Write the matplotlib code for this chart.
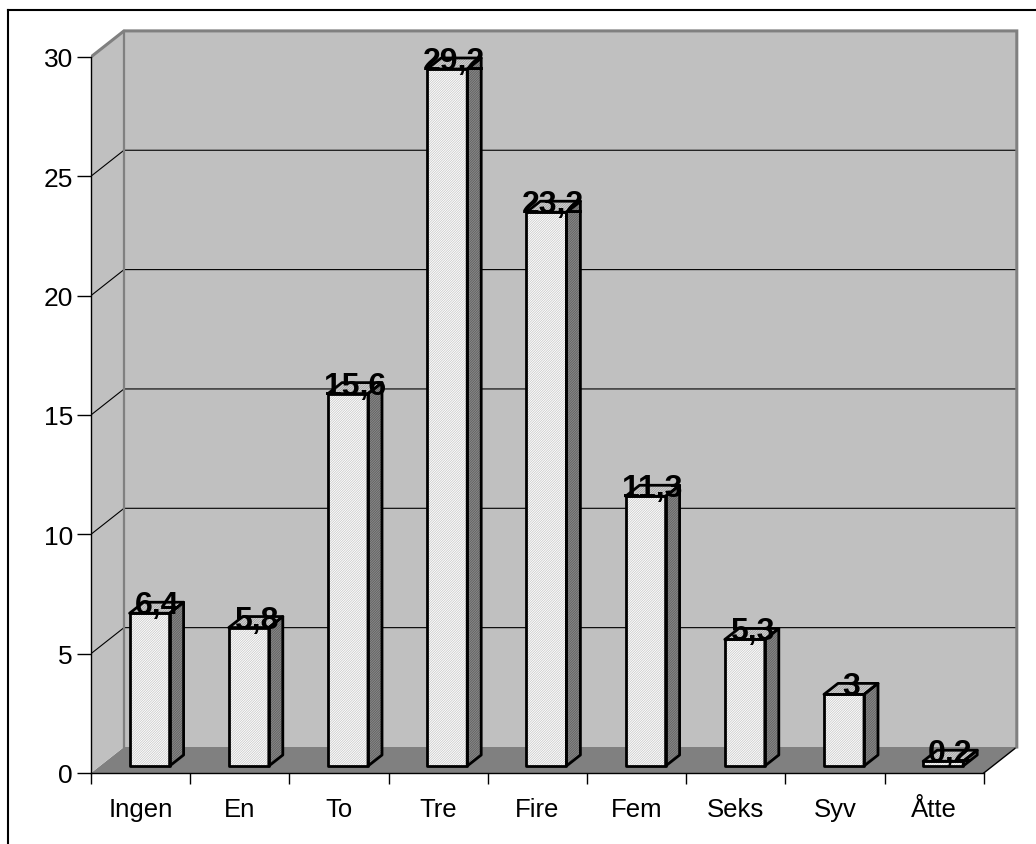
import matplotlib
matplotlib.use('Agg')
import matplotlib.pyplot as plt
from matplotlib.patches import Polygon
from matplotlib.lines import Line2D

plt.rcParams['font.family'] = ['Liberation Sans', 'DejaVu Sans']
plt.rcParams['hatch.linewidth'] = 0.5

categories = ['Ingen', 'En', 'To', 'Tre', 'Fire', 'Fem', 'Seks', 'Syv', 'Åtte']
values = [6.4, 5.8, 15.6, 29.2, 23.2, 11.3, 5.3, 3, 0.2]
labels = ['6,4', '5,8', '15,6', '29,2', '23,2', '11,3', '5,3', '3', '0,2']
yticks = [0, 5, 10, 15, 20, 25, 30]

W, H = 1036, 845
fig = plt.figure(figsize=(W / 100, H / 100), dpi=100)

# plot area in pixels: front axis corner and scale
x0_px, y0_px = 91, 774
px_per_cat = 99.2
px_per_val = 23.87
xmax, ymax = 9.4, 31.2
ax = fig.add_axes([x0_px / W, (H - y0_px) / H,
                   xmax * px_per_cat / W, ymax * px_per_val / H])
ax.set_xlim(0, xmax)
ax.set_ylim(0, ymax)
ax.patch.set_visible(False)

def off(dx_px, dy_px):
    # pixel offset -> data offset (dy_px positive = up)
    return dx_px / px_per_cat, dy_px / px_per_val

n = len(categories)
top = 30
wdx, wdy = off(33, 26)      # depth of the walls
fdx, fdy = off(9, 7)        # bar front face position in depth
bdx, bdy = off(14, 11)      # bar depth
bw = 40 / px_per_cat

wall_gray = '#c0c0c0'
dark_gray = '#808080'

# floor
ax.add_patch(Polygon([(0, 0), (n, 0), (n + wdx, wdy), (wdx, wdy)],
                     closed=True, facecolor=dark_gray, edgecolor='none', zorder=1))
ax.plot([n, n + wdx], [0, wdy], color='black', lw=1, zorder=2)
# side wall
ax.add_patch(Polygon([(0, 0), (0, top), (wdx, top + wdy), (wdx, wdy)],
                     closed=True, facecolor=wall_gray, edgecolor='none', zorder=1))
# back wall
ax.add_patch(Polygon([(wdx, wdy), (wdx, top + wdy), (n + wdx, top + wdy), (n + wdx, wdy)],
                     closed=True, facecolor=wall_gray, edgecolor='none', zorder=1))

# gridlines
for v in yticks[1:-1]:
    ax.plot([0, wdx, n + wdx], [v, v + wdy, v + wdy], color='black', lw=0.8, zorder=2)
ax.plot([0, wdx, n + wdx, n + wdx], [top, top + wdy, top + wdy, wdy],
        color=dark_gray, lw=2.2, zorder=2, solid_joinstyle='miter')
ax.plot([wdx, wdx], [wdy, top + wdy], color=dark_gray, lw=1.6, zorder=2)

# bars
hatch = '/' * 14
for i, v in enumerate(values):
    xl = i + 0.5 - bw / 2 + fdx
    xr = xl + bw
    yb = fdy
    yt = v + fdy
    front = [(xl, yb), (xr, yb), (xr, yt), (xl, yt)]
    side = [(xr, yb), (xr + bdx, yb + bdy), (xr + bdx, yt + bdy), (xr, yt)]
    lid = [(xl, yt), (xr, yt), (xr + bdx, yt + bdy), (xl + bdx, yt + bdy)]
    for poly, fc, hc in [(front, 'white', '#c4c4c4'),
                         (side, '#8a8a8a', '#5a5a5a'),
                         (lid, '#d4d4d4', '#9a9a9a')]:
        ax.add_patch(Polygon(poly, closed=True, facecolor=fc, edgecolor=hc,
                             hatch=hatch, lw=0, zorder=3))
        ax.add_patch(Polygon(poly, closed=True, facecolor='none', edgecolor='black',
                             lw=2, zorder=4, joinstyle='round'))
    ax.text(i + 0.5 + fdx + bdx / 2, yt, labels[i], ha='center', va='baseline',
            fontsize=23, fontweight='bold', color='black', zorder=6)

# axes
for s in ['top', 'right']:
    ax.spines[s].set_visible(False)
ax.spines['left'].set_bounds(0, top)
ax.spines['bottom'].set_bounds(0, n)
ax.spines['left'].set_linewidth(1)
ax.spines['bottom'].set_linewidth(1)
ax.spines['left'].set_zorder(5)
ax.spines['bottom'].set_zorder(5)

ax.set_yticks(yticks)
ax.set_yticklabels([str(t) for t in yticks])
ax.tick_params(axis='y', length=10, width=1, pad=3, labelsize=19)

ax.set_xticks(range(n + 1))
ax.set_xticklabels([])
ax.set_xticks([i + 0.5 for i in range(n)], minor=True)
ax.set_xticklabels(categories, minor=True)
ax.tick_params(axis='x', which='major', length=8, width=1, direction='out')
ax.tick_params(axis='x', which='minor', length=0, pad=17, labelsize=18.5)

# chart frame
fig.add_artist(Line2D([8 / W, 8 / W], [0, 1 - 11 / H], color='black', lw=1.5))
fig.add_artist(Line2D([8 / W, 1], [1 - 11 / H, 1 - 11 / H], color='black', lw=1.5))

fig.savefig('out.png', dpi=100)
